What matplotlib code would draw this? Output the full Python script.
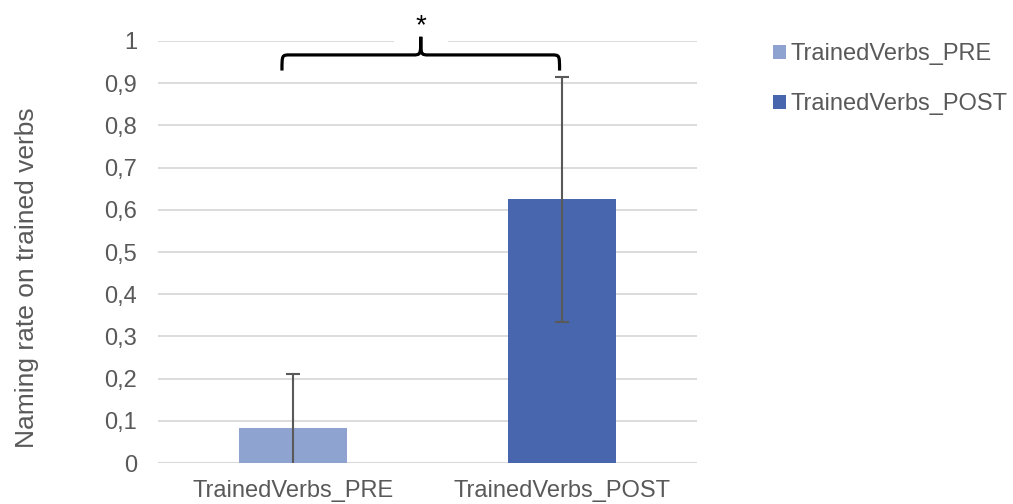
import numpy as np
import matplotlib.pyplot as plt
from matplotlib.path import Path
from matplotlib.patches import PathPatch, Rectangle, Patch

plt.rcParams['font.family'] = ['Liberation Sans', 'DejaVu Sans']

categories = ['TrainedVerbs_PRE', 'TrainedVerbs_POST']
means = [0.083, 0.625]
sds = [0.127, 0.29]
colors = ['#8FA3D1', '#4866AE']
yticks = [0, 0.1, 0.2, 0.3, 0.4, 0.5, 0.6, 0.7, 0.8, 0.9, 1]
ytick_labels = ['0', '0,1', '0,2', '0,3', '0,4', '0,5', '0,6', '0,7', '0,8', '0,9', '1']

fig = plt.figure(figsize=(10.13, 5.04), dpi=100)
ax = fig.add_axes([158 / 1013, 41 / 504, 539 / 1013, 422 / 504])

x = np.arange(len(categories))
ax.bar(x, means, width=0.4, color=colors, zorder=2)
ax.errorbar(x, means, yerr=sds, fmt='none', ecolor='#595959', elinewidth=1.5,
            capsize=5, capthick=1.5, zorder=3)

ax.set_xlim(-0.5, 1.5)
ax.set_ylim(0, 1)
ax.set_yticks(yticks)
ax.set_yticklabels(ytick_labels)
ax.set_xticks(x)
ax.set_xticklabels(categories)
ax.tick_params(length=0, labelsize=17, labelcolor='#595959')
ax.tick_params(axis='y', pad=15)
ax.tick_params(axis='x', pad=12)
ax.grid(axis='y', color='#D9D9D9', linewidth=1.3, zorder=0)
ax.set_axisbelow(True)
for s in ax.spines.values():
    s.set_visible(False)
ax.axhline(0, color='#D9D9D9', linewidth=1.5, zorder=1)

ax.set_ylabel('Naming rate on trained verbs', fontsize=19, color='#595959')
ax.yaxis.set_label_coords(-0.22, 0.44)

# gap in the top gridline behind the brace tip
ax.add_patch(Rectangle((0.375, 0.985), 0.2, 0.03, facecolor='white', edgecolor='none',
                       zorder=1, clip_on=False))

# curly brace over both bars
x0, x1, xm = -0.04, 0.99, 0.475
yb, yh, yt = 0.93, 0.967, 1.01
r = 0.03
verts = [(x0, yb), (x0, yh), (x0, yh), (x0 + r, yh),
         (xm - r, yh), (xm, yh), (xm, yh), (xm, yt),
         (xm, yh), (xm, yh), (xm + r, yh),
         (x1 - r, yh), (x1, yh), (x1, yh), (x1, yb)]
codes = [Path.MOVETO, Path.CURVE4, Path.CURVE4, Path.CURVE4,
         Path.LINETO, Path.CURVE4, Path.CURVE4, Path.CURVE4,
         Path.CURVE4, Path.CURVE4, Path.CURVE4,
         Path.LINETO, Path.CURVE4, Path.CURVE4, Path.CURVE4]
ax.add_patch(PathPatch(Path(verts, codes), facecolor='none', edgecolor='black',
                       linewidth=2.3, clip_on=False, zorder=4))
ax.text(xm, 1.005, '*', ha='center', va='bottom', fontsize=20, color='black')

handles = [Patch(facecolor=c, edgecolor='none') for c in colors]
fig.legend(handles, categories, loc='upper left', bbox_to_anchor=(773 / 1013, 1 - 43 / 504),
           frameon=False, fontsize=17, labelcolor='#595959', handlelength=0.55,
           handleheight=0.55, handletextpad=0.2, labelspacing=1.2, borderpad=0,
           borderaxespad=0)

fig.savefig('out.png', dpi=100)
